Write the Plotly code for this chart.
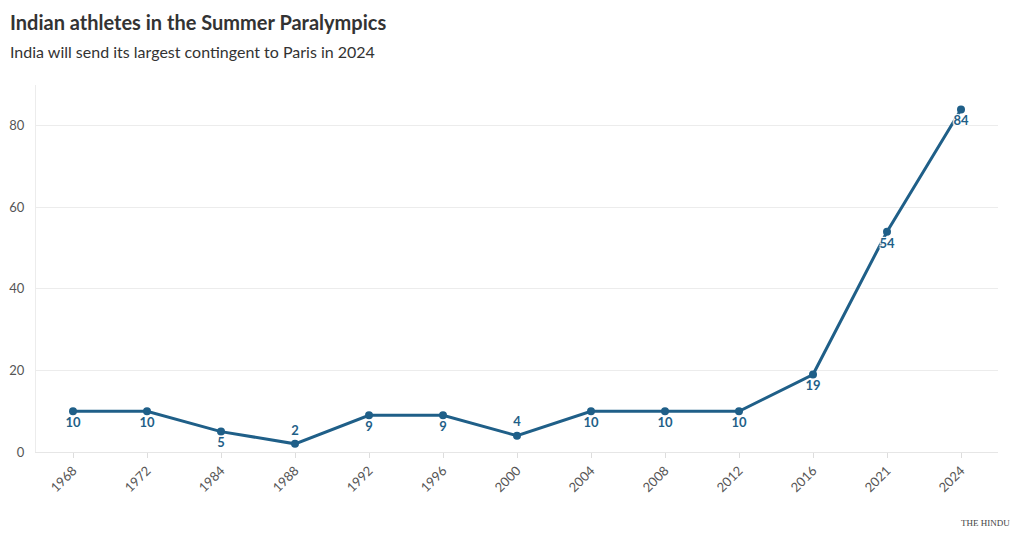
import plotly.graph_objects as go

years = ["1968", "1972", "1984", "1988", "1992", "1996", "2000", "2004", "2008", "2012", "2016", "2021", "2024"]
athletes = [10, 10, 5, 2, 9, 9, 4, 10, 10, 10, 19, 54, 84]
label_pos = ["bottom center", "bottom center", "bottom center", "top center", "bottom center",
             "bottom center", "top center", "bottom center", "bottom center", "bottom center",
             "bottom center", "bottom center", "bottom center"]

color = "#1f5f88"
font_family = "Lato, 'Noto Sans', sans-serif"

fig = go.Figure()
fig.add_trace(go.Scatter(
    x=years, y=athletes,
    mode="lines+markers+text",
    line=dict(color=color, width=3),
    marker=dict(color=color, size=8),
    text=[str(v) for v in athletes],
    textposition=label_pos,
    textfont=dict(family=font_family, size=13, color=color, weight="bold",
                  shadow="1px 1px 1px #fff, -1px -1px 1px #fff, 1px -1px 1px #fff, -1px 1px 1px #fff"),
    hoverinfo="x+y",
    showlegend=False,
    cliponaxis=False,
))

fig.update_layout(
    width=1020, height=545,
    margin=dict(l=28, r=30, t=77, b=101),
    paper_bgcolor="white", plot_bgcolor="white",
    font=dict(family=font_family, color="#555"),
    xaxis=dict(
        type="category", range=[-0.5, 12.5], automargin=False,
        tickangle=-45, tickfont=dict(size=13, color="#555"),
        ticks="outside", ticklen=5, tickcolor="#ddd",
        showgrid=False, showline=True, linecolor="#e6e6e6", linewidth=1,
        zeroline=False,
    ),
    yaxis=dict(
        range=[0, 90], tickvals=[0, 20, 40, 60, 80], automargin=False,
        tickfont=dict(size=13, color="#555"),
        showgrid=True, gridcolor="#ececec", gridwidth=1,
        showline=True, linecolor="#ececec", linewidth=1,
        zeroline=False, ticks="", ticklabelstandoff=8,
    ),
    annotations=[
        dict(text="<b>Indian athletes in the Summer Paralympics</b>", xref="paper", yref="paper",
             x=0, y=1, xanchor="left", yanchor="top", showarrow=False,
             font=dict(size=20, color="#333", family=font_family),
             xshift=-28, yshift=77),
        dict(text="India will send its largest contingent to Paris in 2024", xref="paper", yref="paper",
             x=0, y=1, xanchor="left", yanchor="top", showarrow=False,
             font=dict(size=16, color="#333", family=font_family),
             xshift=-28, yshift=45),
        dict(text="THE HINDU", xref="paper", yref="paper", x=1, y=0, xanchor="right", yanchor="top",
             showarrow=False, font=dict(size=9, color="#444", family="'Liberation Serif', serif"),
             xshift=14, yshift=-64),
    ],
)

fig.write_html("out.html")
